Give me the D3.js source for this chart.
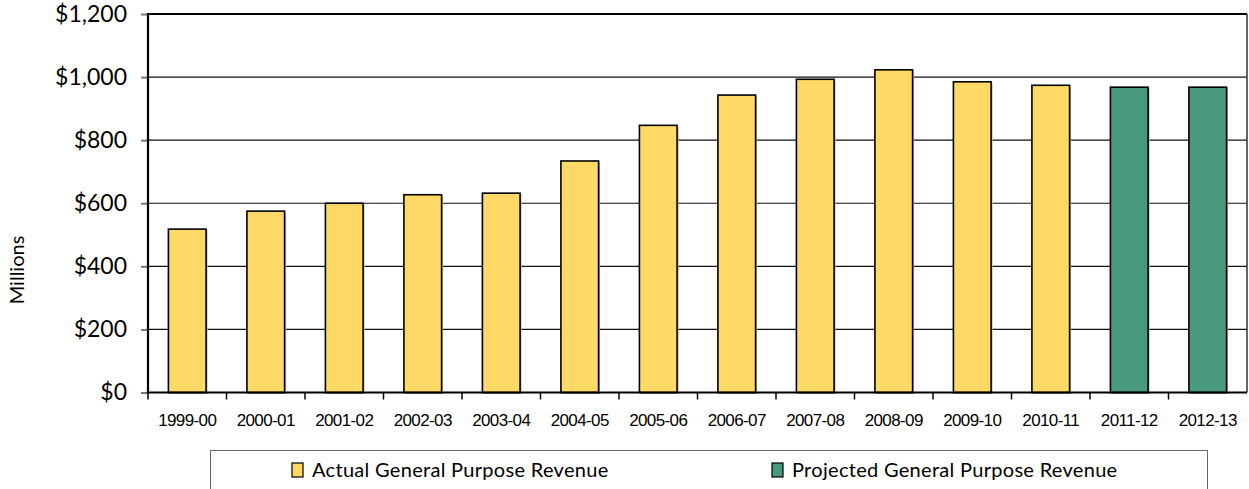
<!DOCTYPE html>
<html><head><meta charset="utf-8">
<script src="https://cdn.jsdelivr.net/npm/d3@7"></script>
<style>body{margin:0;background:#fff}svg{display:block}</style>
</head><body><svg id="c" width="1249" height="489"></svg>
<script>
const categories = ["1999-00","2000-01","2001-02","2002-03","2003-04","2004-05","2005-06","2006-07","2007-08","2008-09","2009-10","2010-11","2011-12","2012-13"];
const values = [518,575,600,627,632,734,847,943,993,1023,985,974,968,968];
const seriesType = ["Actual","Actual","Actual","Actual","Actual","Actual","Actual","Actual","Actual","Actual","Actual","Actual","Projected","Projected"];
const yTicks = [0,200,400,600,800,1000,1200];
const legendLabels = ["Actual General Purpose Revenue","Projected General Purpose Revenue"];
const colors = {Actual:"#FFD966", Projected:"#48997F"};

const svg = d3.select("#c");
const L=148, R=1247, T=14, B=392.5;
const x = d3.scaleBand().domain(categories).range([L,R]).paddingInner(0.52).paddingOuter(0.26);
const y = d3.scaleLinear().domain([0,1200]).range([B,T]);

// gridlines
svg.append("g").selectAll("line").data(yTicks.filter(d=>d>0&&d<1200)).join("line")
  .attr("x1",L).attr("x2",R).attr("y1",d=>y(d)).attr("y2",d=>y(d))
  .attr("stroke","#111").attr("stroke-width",1.2);

// y axis
const yAxis = d3.axisLeft(y).tickValues(yTicks).tickSize(7).tickPadding(14)
  .tickFormat(d=>"$"+d3.format(",")(d));
const gy = svg.append("g").attr("transform",`translate(${L},0)`).call(yAxis);
gy.select(".domain").remove();
gy.selectAll(".tick line").attr("stroke","#777").attr("stroke-width",2);
gy.selectAll("text").attr("font-family","Lato, 'Open Sans', sans-serif").attr("font-size",23).attr("fill","#000");

// bars shadow
svg.append("g").selectAll("rect").data(categories).join("rect")
  .attr("x",d=>x(d)+1.5).attr("y",(d,i)=>y(values[i])+1.5)
  .attr("width",x.bandwidth()).attr("height",(d,i)=>B-y(values[i]))
  .attr("fill","#bbb");
svg.append("g").selectAll("rect").data(categories).join("rect")
  .attr("x",d=>x(d)).attr("y",(d,i)=>y(values[i]))
  .attr("width",x.bandwidth()).attr("height",(d,i)=>B-y(values[i]))
  .attr("fill",(d,i)=>colors[seriesType[i]]).attr("stroke","#000").attr("stroke-width",1.6);

// x axis
const bounds = categories.map(c=>x(c)-x.step()*x.paddingInner()/2).concat([R]);
svg.append("g").selectAll("line").data(bounds.slice(0,-1)).join("line")
  .attr("x1",d=>d).attr("x2",d=>d).attr("y1",B).attr("y2",B+7).attr("stroke","#000").attr("stroke-width",1.5);
svg.append("g").selectAll("text").data(categories).join("text")
  .attr("x",d=>x(d)+x.bandwidth()/2).attr("y",426)
  .attr("text-anchor","middle").attr("font-family","'Liberation Sans', Arial, sans-serif")
  .attr("font-size",17).attr("letter-spacing",-0.6).text(d=>d);

// frame
svg.append("line").attr("x1",L).attr("x2",R).attr("y1",T).attr("y2",T).attr("stroke","#000").attr("stroke-width",2);
svg.append("line").attr("x1",R).attr("x2",R).attr("y1",T).attr("y2",B).attr("stroke","#333").attr("stroke-width",1.5);
svg.append("line").attr("x1",L).attr("x2",L).attr("y1",T-1).attr("y2",B+1).attr("stroke","#000").attr("stroke-width",2.2);
svg.append("line").attr("x1",L).attr("x2",R).attr("y1",B).attr("y2",B).attr("stroke","#000").attr("stroke-width",2.2);

// y title
svg.append("text").attr("transform","translate(24,270) rotate(-90)").attr("text-anchor","middle")
  .attr("font-family","Lato, 'Open Sans', sans-serif").attr("font-size",20).text("Millions");

// legend
svg.append("rect").attr("x",210.5).attr("y",450.5).attr("width",997).attr("height",50)
  .attr("fill","#fff").attr("stroke","#666").attr("stroke-width",1);
const lx=[292,772];
const lg = svg.append("g").selectAll("g").data(legendLabels).join("g")
  .attr("transform",(d,i)=>`translate(${lx[i]},0)`);
lg.append("rect").attr("x",0).attr("y",463).attr("width",11).attr("height",14)
  .attr("fill",(d,i)=>colors[i?"Projected":"Actual"]).attr("stroke","#000").attr("stroke-width",1.2);
lg.append("text").attr("x",20).attr("y",477).attr("font-family","Lato, 'Open Sans', sans-serif")
  .attr("font-size",20).attr("letter-spacing",0.3).text(d=>d);
</script></body></html>
